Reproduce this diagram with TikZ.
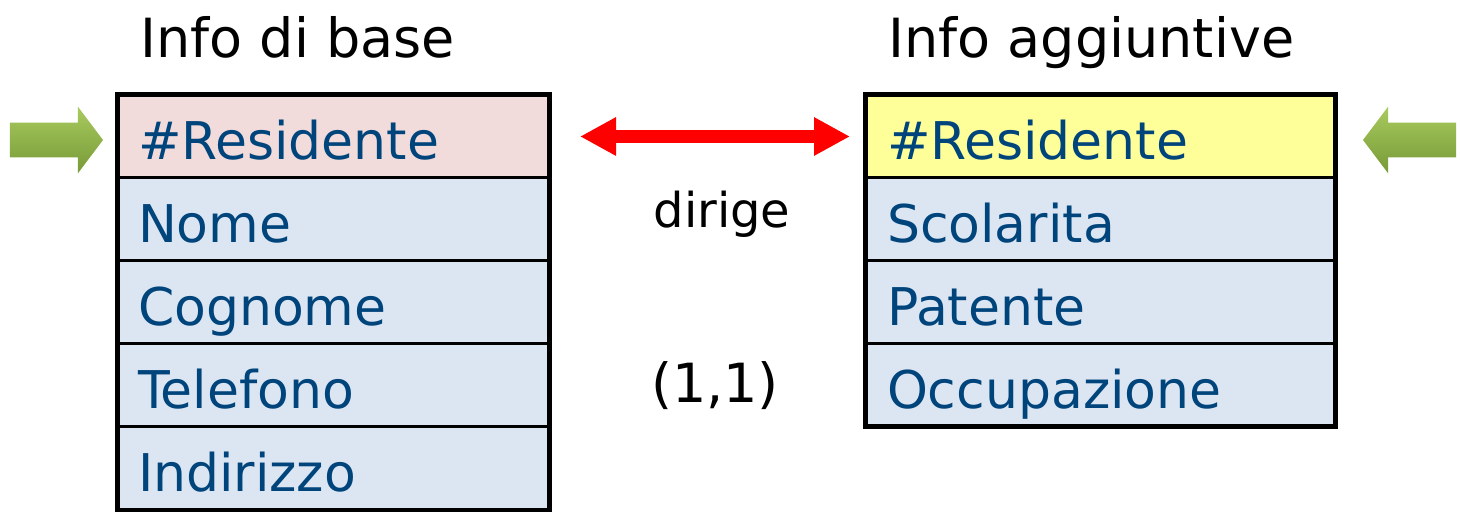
\documentclass[tikz,border=0pt]{standalone}
\usepackage{fontspec}
\setmainfont{DejaVu Sans}
\usetikzlibrary{positioning,shapes.arrows,arrows.meta}
\definecolor{txtblue}{RGB}{0,68,124}
\definecolor{keypink}{RGB}{242,220,219}
\definecolor{keyyellow}{RGB}{255,255,153}
\definecolor{rowblue}{RGB}{220,230,242}
\definecolor{greenlt}{RGB}{168,202,94}
\definecolor{greendk}{RGB}{120,154,56}

\begin{document}
\begin{tikzpicture}[x=0.5pt,y=-0.5pt,
	rowstyle/.style={rectangle, draw=black, line width=1.5pt, fill=rowblue,
	text=txtblue, font=\fontsize{26}{31}\selectfont, align=left, outer sep=0pt,
	inner ysep=0pt, minimum height=41.5pt, text height=27pt, text depth=3.5pt},
	lrow/.style={rowstyle, inner xsep=10.5pt, text width=195pt},
	rrow/.style={rowstyle, inner xsep=11pt, text width=213pt},
	title/.style={font=\fontsize{27}{32}\selectfont, inner sep=0pt},
	rel/.style={font=\fontsize{24}{29}\selectfont, inner sep=0pt},
	garrow/.style={single arrow, draw=none, top color=greenlt, bottom color=greendk,
	minimum height=46.5pt, inner sep=8.5pt, outer sep=0pt,
	single arrow head extend=8pt, single arrow tip angle=106},
	rarrow/.style={{Triangle[length=18pt,width=18pt]}-{Triangle[length=18pt,width=18pt]},
	red, line width=6.5pt}
	]
	\useasboundingbox (0,0) rectangle (1460,512);
	
	% info di base
	\node[lrow, fill=keypink, anchor=north west] (b1) at (117,95) {\#Residente};
	\node[lrow] (b2) [below=0pt of b1] {Nome};
	\node[lrow] (b3) [below=0pt of b2] {Cognome};
	\node[lrow] (b4) [below=0pt of b3] {Telefono};
	\node[lrow] (b5) [below=0pt of b4] {Indirizzo};
	\draw[line width=2.5pt] (b1.north west) rectangle (b5.south east);
	\node[title, anchor=base west] (tb) at (140,58) {Info di base};
	
	% info aggiuntive
	\node[rrow, fill=keyyellow, anchor=north west] (a1) at (865,95) {\#Residente};
	\node[rrow] (a2) [below=0pt of a1] {Scolarita};
	\node[rrow] (a3) [below=0pt of a2] {Patente};
	\node[rrow] (a4) [below=0pt of a3] {Occupazione};
	\draw[line width=2.5pt] (a1.north west) rectangle (a4.south east);
	\node[title, anchor=base west] (ta) at (888,58) {Info aggiuntive};
	
	% relazione
	\draw[rarrow, shorten <=15.5pt, shorten >=7.5pt] (b1) -- (a1);
	\node[rel, anchor=base] (dir) at (722,228) {dirige};
	\node[title, anchor=base] (card) at (715,403) {(1,1)};
	
	\node[garrow, left=7pt of b1, yshift=-1.75pt] (inL) {};
	\node[garrow, shape border rotate=180, right=14pt of a1, yshift=-1.75pt] (inR) {};
\end{tikzpicture}
\end{document}
